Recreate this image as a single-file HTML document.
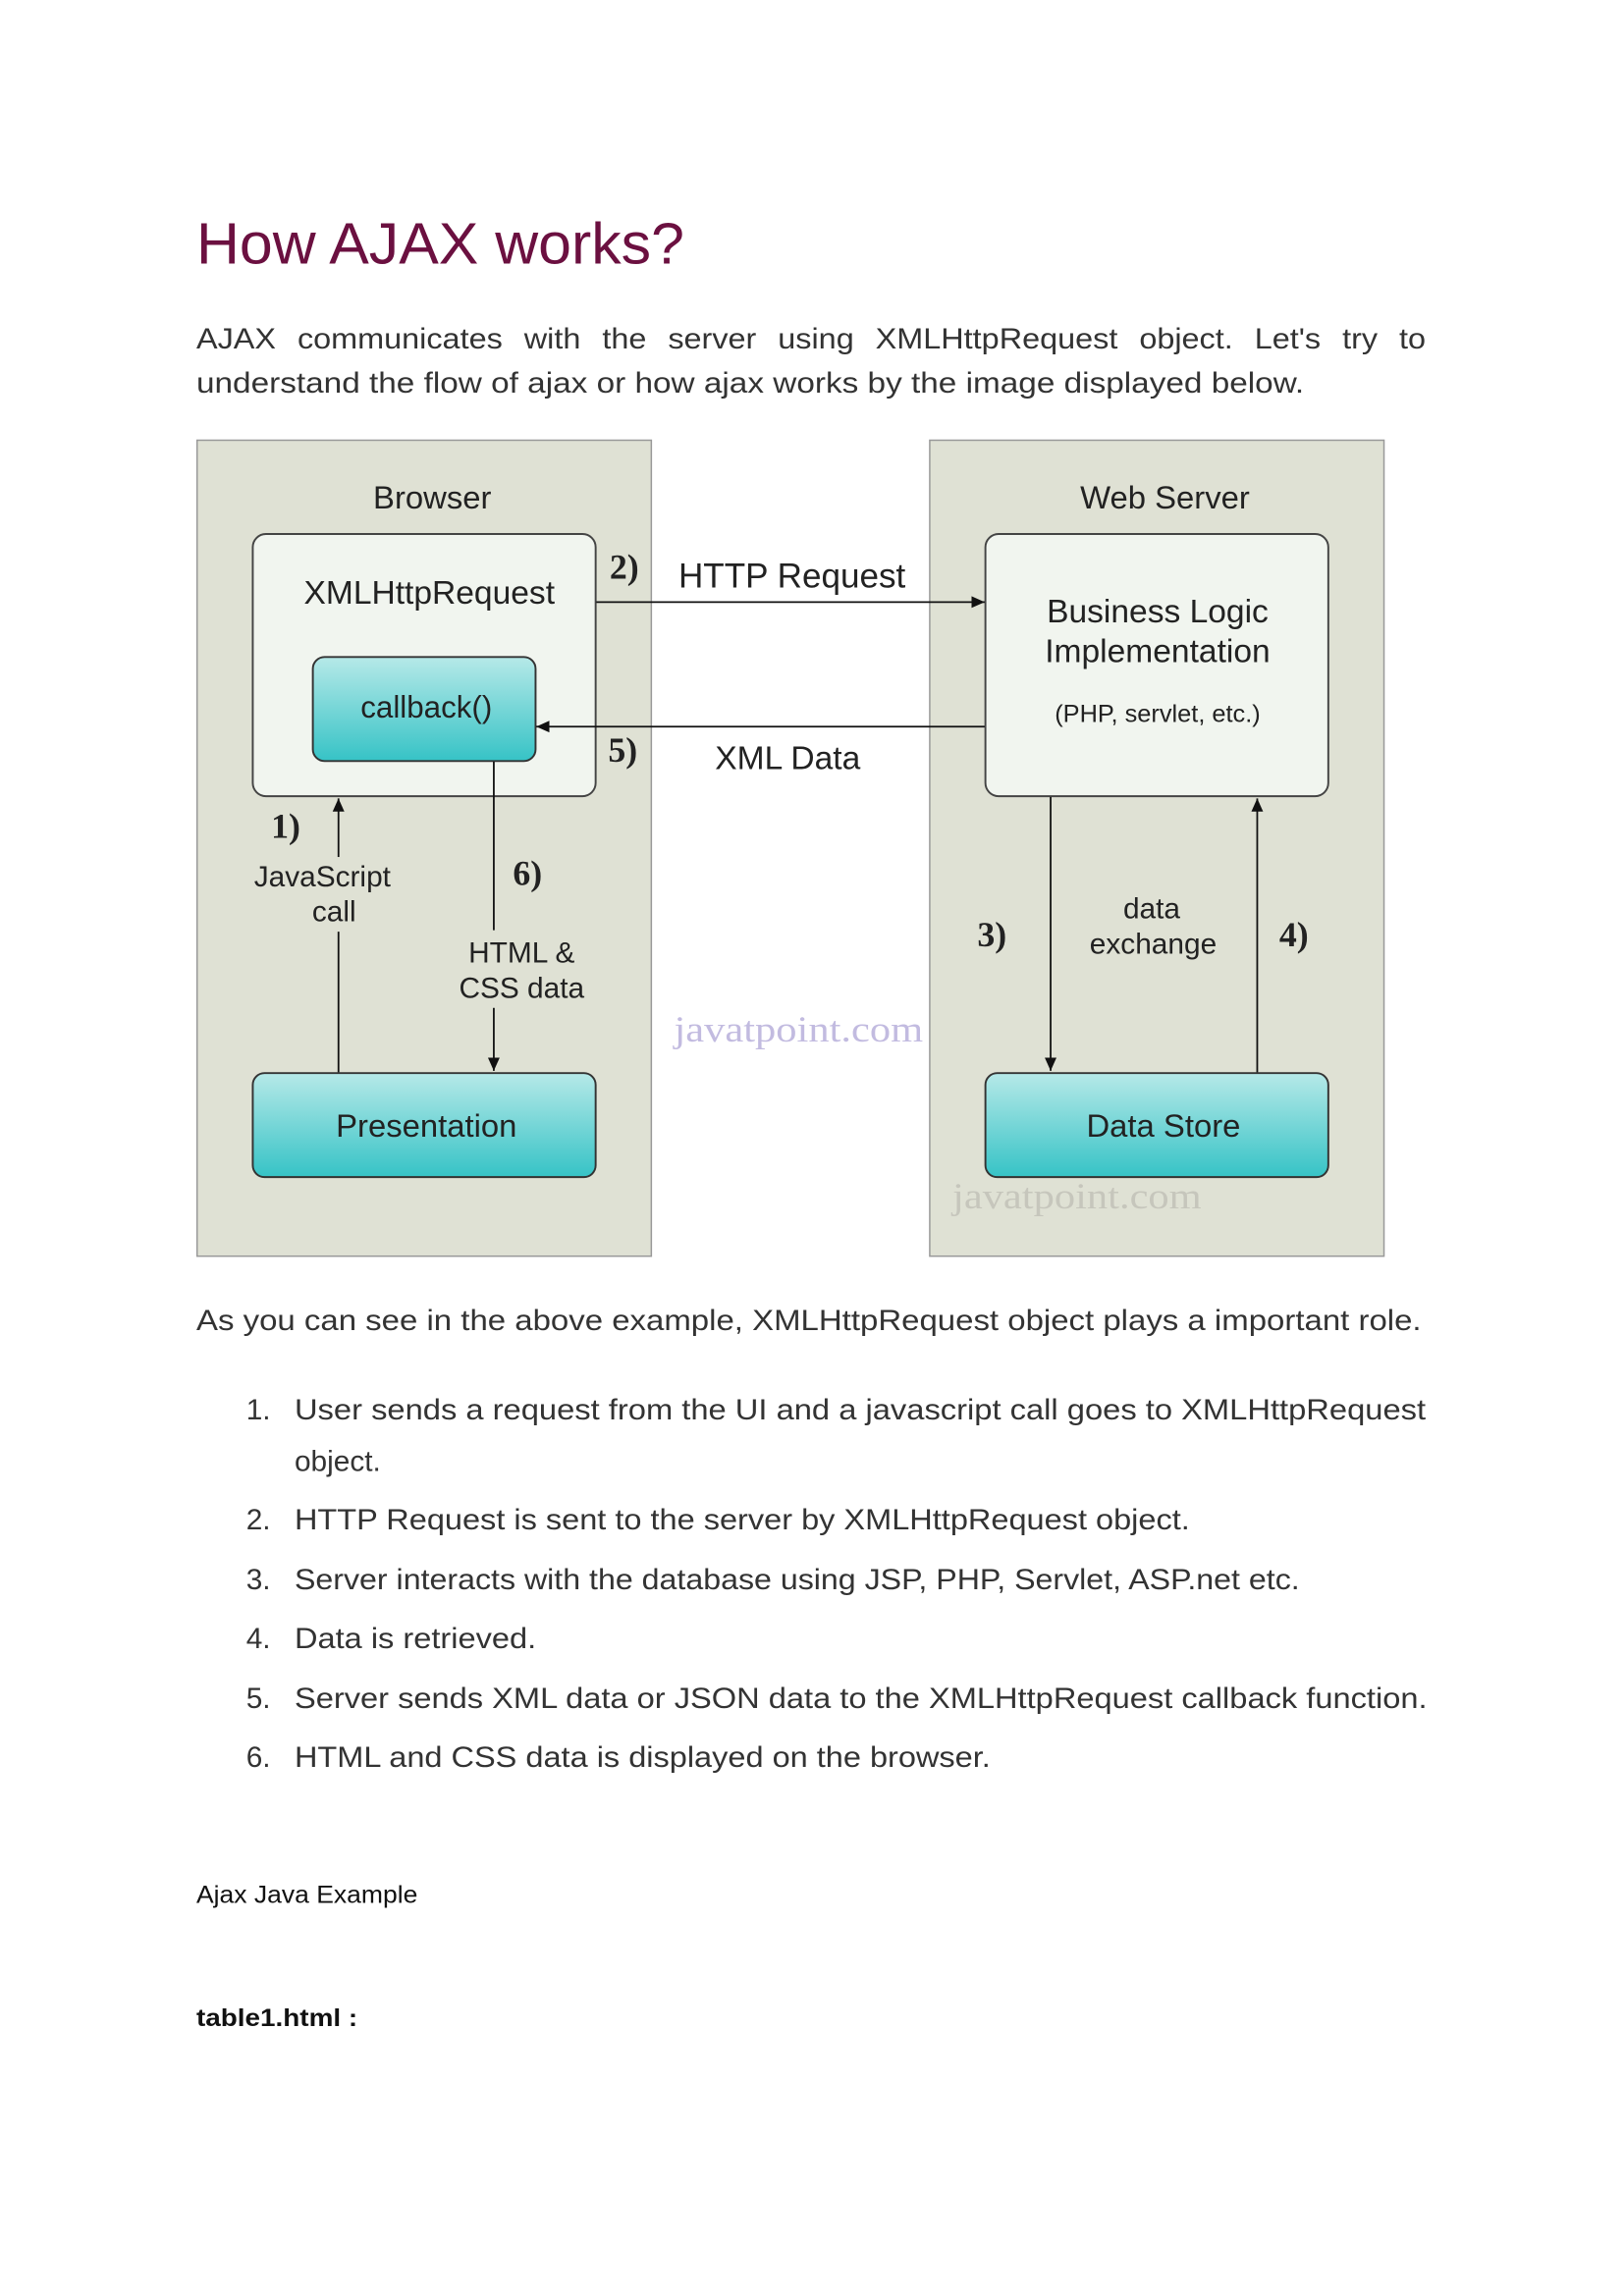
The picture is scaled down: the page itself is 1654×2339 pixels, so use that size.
<!DOCTYPE html>
<html><head><meta charset="utf-8"><style>
html,body{margin:0;padding:0;background:#fff;}
svg{display:block;}
</style></head><body>
<svg width="1654" height="2339" viewBox="0 0 1108.3 1567.3" xmlns="http://www.w3.org/2000/svg">
<defs>
<linearGradient id="teal" x1="0" y1="0" x2="0" y2="1">
<stop offset="0" stop-color="#b6e9e8"/><stop offset="1" stop-color="#36c3c6"/>
</linearGradient>
<marker id="ah" markerWidth="10" markerHeight="10" refX="9" refY="5" orient="auto" markerUnits="userSpaceOnUse">
<path d="M0,1 L9,5 L0,9 z" fill="#111"/>
</marker>
</defs>
<g font-family="Liberation Sans, sans-serif">
<text x="134" y="180" font-size="40" fill="#6b1040" textLength="333" lengthAdjust="spacingAndGlyphs">How AJAX works?</text>
<text x="134" y="238" font-size="20" fill="#333" word-spacing="8" textLength="839" lengthAdjust="spacingAndGlyphs">AJAX communicates with the server using XMLHttpRequest object. Let's try to</text>
<text x="134" y="268" font-size="20" fill="#333" textLength="756" lengthAdjust="spacingAndGlyphs">understand the flow of ajax or how ajax works by the image displayed below.</text>

<rect x="134.5" y="300.5" width="310" height="557" fill="#dfe1d4" stroke="#999"/>
<rect x="634.5" y="300.5" width="310" height="557" fill="#dfe1d4" stroke="#999"/>
<text x="295" y="347" font-size="22" fill="#222" text-anchor="middle">Browser</text>
<text x="795" y="347" font-size="22" fill="#222" text-anchor="middle">Web Server</text>

<rect x="172.5" y="364.5" width="234" height="179" rx="9" fill="#f1f5ef" stroke="#444" stroke-width="1.3"/>
<text x="293" y="412" font-size="22.5" fill="#222" text-anchor="middle">XMLHttpRequest</text>
<rect x="213.5" y="448.5" width="152" height="71" rx="8" fill="url(#teal)" stroke="#333" stroke-width="1.3"/>
<text x="291" y="490" font-size="21" fill="#222" text-anchor="middle">callback()</text>
<rect x="172.5" y="732.5" width="234" height="71" rx="8" fill="url(#teal)" stroke="#333" stroke-width="1.3"/>
<text x="291" y="776" font-size="22" fill="#222" text-anchor="middle">Presentation</text>

<rect x="672.5" y="364.5" width="234" height="179" rx="9" fill="#f1f5ef" stroke="#444" stroke-width="1.3"/>
<text x="790" y="425" font-size="22.5" fill="#222" text-anchor="middle">Business Logic</text>
<text x="790" y="452" font-size="22.5" fill="#222" text-anchor="middle">Implementation</text>
<text x="790" y="493" font-size="17" fill="#222" text-anchor="middle">(PHP, servlet, etc.)</text>
<rect x="672.5" y="732.5" width="234" height="71" rx="8" fill="url(#teal)" stroke="#333" stroke-width="1.3"/>
<text x="794" y="776" font-size="22" fill="#222" text-anchor="middle">Data Store</text>

<g stroke="#111" stroke-width="1.2" fill="none">
<line x1="407" y1="411" x2="672" y2="411" marker-end="url(#ah)"/>
<line x1="672" y1="496" x2="366" y2="496" marker-end="url(#ah)"/>
<line x1="231" y1="585" x2="231" y2="545" marker-end="url(#ah)"/>
<line x1="231" y1="636" x2="231" y2="732"/>
<line x1="337" y1="520" x2="337" y2="635"/>
<line x1="337" y1="688" x2="337" y2="731" marker-end="url(#ah)"/>
<line x1="717" y1="544" x2="717" y2="731" marker-end="url(#ah)"/>
<line x1="858" y1="732" x2="858" y2="545" marker-end="url(#ah)"/>
</g>
<g font-family="Liberation Serif, serif" font-size="24" font-weight="bold" fill="#222">
<text x="416" y="395">2)</text>
<text x="415" y="520">5)</text>
<text x="185" y="572">1)</text>
<text x="350" y="604">6)</text>
<text x="667" y="646">3)</text>
<text x="873" y="646">4)</text>
</g>
<text x="463" y="401" font-size="23.5" fill="#222">HTTP Request</text>
<text x="488" y="525" font-size="22.5" fill="#222">XML Data</text>
<text x="220" y="605" font-size="20" fill="#222" text-anchor="middle">JavaScript</text>
<text x="228" y="629" font-size="20" fill="#222" text-anchor="middle">call</text>
<text x="356" y="657" font-size="20" fill="#222" text-anchor="middle">HTML &amp;</text>
<text x="356" y="681" font-size="20" fill="#222" text-anchor="middle">CSS data</text>
<text x="786" y="627" font-size="20" fill="#222" text-anchor="middle">data</text>
<text x="787" y="651" font-size="20" fill="#222" text-anchor="middle">exchange</text>
<text x="460" y="711" font-family="Liberation Serif, serif" font-size="25" fill="#c2bbe0" textLength="170" lengthAdjust="spacingAndGlyphs">javatpoint.com</text>
<text x="650" y="825" font-family="Liberation Serif, serif" font-size="25" fill="#c6c6bc" textLength="170" lengthAdjust="spacingAndGlyphs">javatpoint.com</text>

<g font-size="20" fill="#333">
<text x="134" y="908" textLength="836" lengthAdjust="spacingAndGlyphs">As you can see in the above example, XMLHttpRequest object plays a important role.</text>
<text x="168" y="969">1.</text>
<text x="201" y="969" textLength="772" lengthAdjust="spacingAndGlyphs">User sends a request from the UI and a javascript call goes to XMLHttpRequest</text>
<text x="201" y="1004">object.</text>
<text x="168" y="1044">2.</text>
<text x="201" y="1044" textLength="611" lengthAdjust="spacingAndGlyphs">HTTP Request is sent to the server by XMLHttpRequest object.</text>
<text x="168" y="1085">3.</text>
<text x="201" y="1085" textLength="686" lengthAdjust="spacingAndGlyphs">Server interacts with the database using JSP, PHP, Servlet, ASP.net etc.</text>
<text x="168" y="1125">4.</text>
<text x="201" y="1125" textLength="165" lengthAdjust="spacingAndGlyphs">Data is retrieved.</text>
<text x="168" y="1166">5.</text>
<text x="201" y="1166" textLength="773" lengthAdjust="spacingAndGlyphs">Server sends XML data or JSON data to the XMLHttpRequest callback function.</text>
<text x="168" y="1206">6.</text>
<text x="201" y="1206" textLength="475" lengthAdjust="spacingAndGlyphs">HTML and CSS data is displayed on the browser.</text>
</g>
<text x="134" y="1299" font-size="17" fill="#111" textLength="151" lengthAdjust="spacingAndGlyphs">Ajax Java Example</text>
<text x="134" y="1383" font-size="17" font-weight="bold" fill="#111" textLength="110" lengthAdjust="spacingAndGlyphs">table1.html :</text>
</g>
</svg>
</body></html>
